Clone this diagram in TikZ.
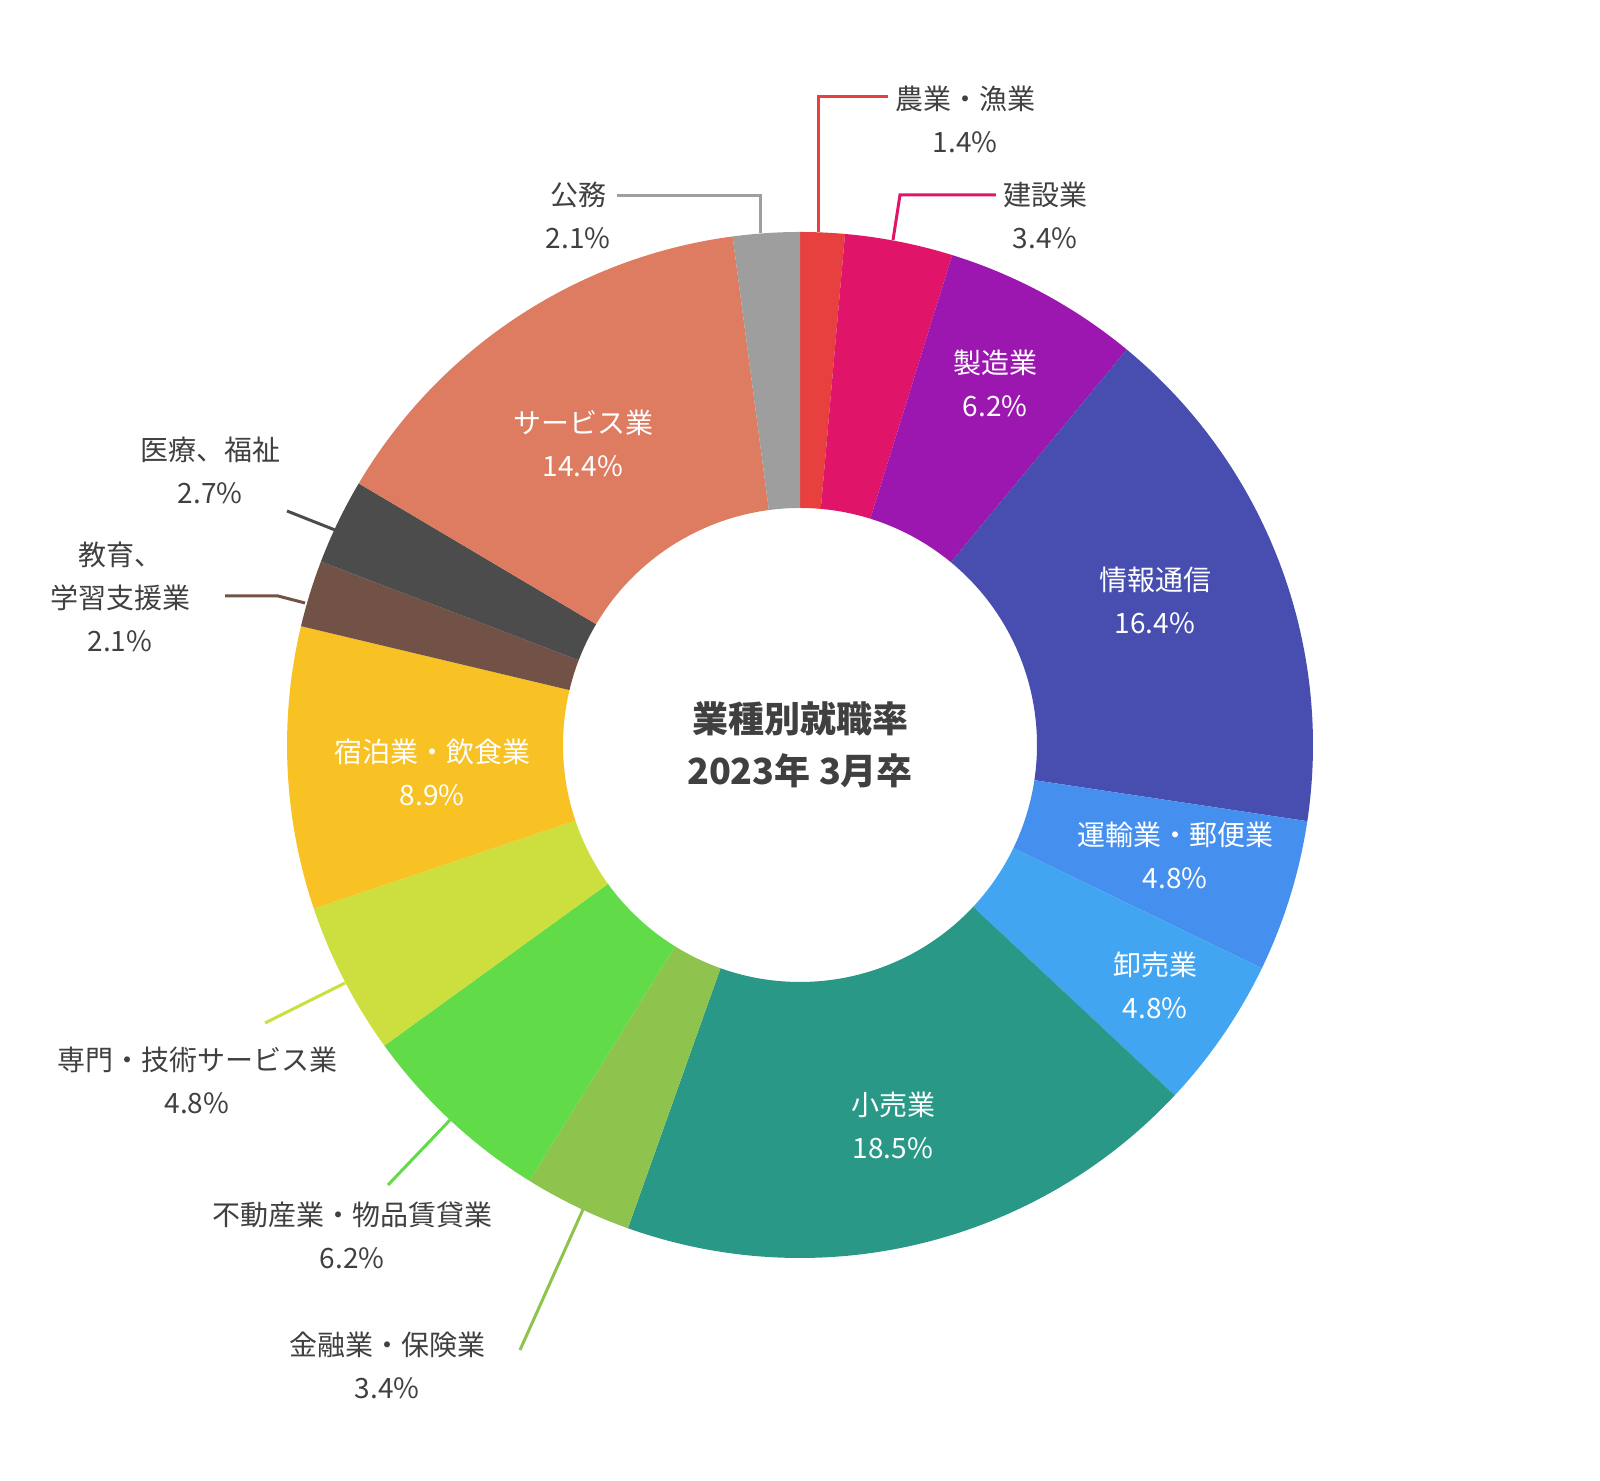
\documentclass[tikz,border=0pt]{standalone}
\usepackage{fontspec}
\setmainfont{Noto Sans CJK JP}
\begin{document}
\begin{tikzpicture}[x=0.5pt,y=0.5pt]
\definecolor{txt}{HTML}{404040}
\tikzset{lab/.style={align=center,font=\fontsize{14}{21.5}\selectfont,text=txt},
 inl/.style={lab,text=white},
 lead/.style={line width=1.5pt}}
\useasboundingbox (0,0) rectangle (1600,1481);
\begin{scope}[shift={(800,736)}]
\foreach \a/\b/\c in {0/1.4/E8403E,1.4/4.8/E0156A,4.8/11/9C17B0,11/27.4/474EB0,27.4/32.2/4590EE,32.2/37/42A5F2,37/55.5/2A9887,55.5/58.9/8EC44E,58.9/65.1/62DB48,65.1/69.9/CDDF3E,69.9/78.8/F8C124,78.8/80.9/725246,80.9/83.6/4C4C4C,83.6/98/DD7C60,98/100.1/9E9E9E}{
 \definecolor{seg}{HTML}{\c}
 \pgfmathsetmacro\sa{90-\a*3.5964}
 \pgfmathsetmacro\sb{90-\b*3.5964}
 \fill[seg] (\sa:513) arc[start angle=\sa,end angle=\sb,radius=513] -- (\sb:237) arc[start angle=\sb,end angle=\sa,radius=237] -- cycle;
}
\end{scope}
\node[lab,font=\bfseries\fontsize{18}{26}\selectfont] (ctr) at (800,736) {業種別就職率\\2023年 3月卒};
\node[inl] (l3) at (995,1098) {製造業\\6.2\%};
\node[inl] (l4) at (1155,881) {情報通信\\16.4\%};
\node[inl] (l5) at (1175,626) {運輸業・郵便業\\4.8\%};
\node[inl] (l6) at (1155,496) {卸売業\\4.8\%};
\node[inl] (l7) at (893,356) {小売業\\18.5\%};
\node[inl] (l14) at (583,1038) {サービス業\\14.4\%};
\node[inl] (l11) at (432,709) {宿泊業・飲食業\\8.9\%};
% outside labels
\node[lab] (l1) at (965,1362) {農業・漁業\\1.4\%};
\node[lab] (l2) at (1045,1266) {建設業\\3.4\%};
\node[lab] (l15) at (578,1266) {公務\\2.1\%};
\node[lab] (l13) at (210,1011) {医療、福祉\\2.7\%};
\node[lab] (l12) at (120,884) {教育、\\学習支援業\\2.1\%};
\node[lab] (l10) at (197,401) {専門・技術サービス業\\4.8\%};
\node[lab] (l9) at (352,246) {不動産業・物品賃貸業\\6.2\%};
\node[lab] (l8) at (387,116) {金融業・保険業\\3.4\%};
\coordinate (p1) at (818,1249); \coordinate (p2) at (893,1241);
\coordinate (p15) at (760,1248); \coordinate (p13) at (335,951);
\coordinate (p12) at (305,878); \coordinate (p10) at (345,498);
\coordinate (p9) at (450,361); \coordinate (p8) at (585,276);
\draw[lead,color={rgb,255:red,232;green,64;blue,62}] (p1) -- (818,1384) -- (l1.west|-818,1384);
\draw[lead,color={rgb,255:red,224;green,21;blue,106}] (p2) -- (900,1286) -- (l2.west|-900,1286);
\draw[lead,color={rgb,255:red,158;green,158;blue,158}] (p15) -- (760,1285) -- (l15.east|-760,1285);
\draw[lead,color={rgb,255:red,76;green,76;blue,76}] (p13) -- (287,970);
\draw[lead,color={rgb,255:red,114;green,82;blue,70}] (p12) -- (278,885) -- (225,885);
\draw[lead,color={rgb,255:red,205;green,223;blue,62}] (p10) -- (265,458);
\draw[lead,color={rgb,255:red,98;green,219;blue,72}] (p9) -- (388,296);
\draw[lead,color={rgb,255:red,142;green,196;blue,78}] (p8) -- (520,131);
\end{tikzpicture}
\end{document}
